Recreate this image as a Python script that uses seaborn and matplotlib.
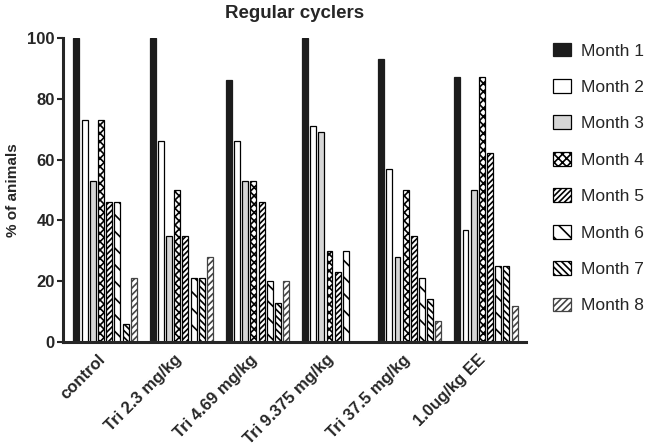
import matplotlib
matplotlib.use("Agg")
import matplotlib.pyplot as plt
import seaborn as sns
import pandas as pd
from matplotlib.patches import Patch

groups = ["control", "Tri 2.3 mg/kg", "Tri 4.69 mg/kg", "Tri 9.375 mg/kg", "Tri 37.5 mg/kg", "1.0ug/kg EE"]
months = ["Month 1", "Month 2", "Month 3", "Month 4", "Month 5", "Month 6", "Month 7", "Month 8"]
month1 = [100, 100, 86, 100, 93, 87]
month2 = [73, 66, 66, 71, 57, 37]
month3 = [53, 35, 53, 69, 28, 50]
month4 = [73, 50, 53, 30, 50, 87]
month5 = [46, 35, 46, 23, 35, 62]
month6 = [46, 21, 20, 30, 21, 25]
month7 = [6, 21, 13, 0, 14, 25]
month8 = [21, 28, 20, 0, 7, 12]
series = [month1, month2, month3, month4, month5, month6, month7, month8]

rows = []
for m, vals in zip(months, series):
    for g, v in zip(groups, vals):
        rows.append({"group": g, "month": m, "value": v})
df = pd.DataFrame(rows)

sns.set_style("ticks")
plt.rcParams["font.family"] = ["Liberation Sans", "DejaVu Sans"]
plt.rcParams["hatch.linewidth"] = 1.2

facecolors = ["#1c1c1c", "white", "#d6d6d6", "white", "white", "white", "white", "white"]
edgecolors = ["#1c1c1c", "black", "black", "black", "black", "black", "black", "#444444"]
hatches = [None, None, None, "xxxx", "//////", "\\\\", "\\\\\\\\\\", "/////"]

fig = plt.figure(figsize=(6.45, 4.46), dpi=100)
ax = fig.add_axes([0.098, 0.233, 0.718, 0.682])

sns.barplot(data=df, x="group", y="value", hue="month", hue_order=months,
            palette=dict(zip(months, facecolors)), width=0.86, ax=ax,
            legend=False, saturation=1)

bar_w = 0.078
for i, cont in enumerate(ax.containers):
    for p in cont.patches:
        cx = p.get_x() + p.get_width() / 2
        p.set_width(bar_w)
        p.set_x(cx - bar_w / 2)
        p.set_facecolor(facecolors[i])
        p.set_edgecolor(edgecolors[i])
        p.set_linewidth(0.9)
        if hatches[i]:
            p.set_hatch(hatches[i])

ax.set_xlim(-0.55, 5.53)
ax.set_ylim(0, 100)
ax.set_yticks([0, 20, 40, 60, 80, 100])
ax.set_xlabel("")
ax.set_ylabel("% of animals", fontsize=11, fontweight="bold", labelpad=5)
ax.set_title("Regular cyclers", fontsize=13.5, fontweight="bold", pad=14)
ax.set_xticks([i - 0.1 for i in range(len(groups))])
ax.set_xticklabels(groups, rotation=45, ha="right", rotation_mode="anchor",
                   fontsize=12, fontweight="bold")
ax.tick_params(axis="x", length=0, pad=7)
ax.tick_params(axis="y", length=4, width=1.5, labelsize=12, pad=2)
for lab in ax.get_yticklabels():
    lab.set_fontweight("bold")
sns.despine(ax=ax)
ax.spines["left"].set_linewidth(2.2)
ax.spines["bottom"].set_linewidth(2.2)

handles = []
for i, m in enumerate(months):
    handles.append(Patch(facecolor=facecolors[i], edgecolor=edgecolors[i],
                         hatch=hatches[i], linewidth=0.9, label=m))
fig.legend(handles=handles, loc="upper left", bbox_to_anchor=(0.846, 0.92),
           frameon=False, fontsize=12.5, handlelength=1.05, handleheight=0.85,
           labelspacing=1.18, handletextpad=0.6, borderaxespad=0)

fig.savefig("out.png", dpi=100)
